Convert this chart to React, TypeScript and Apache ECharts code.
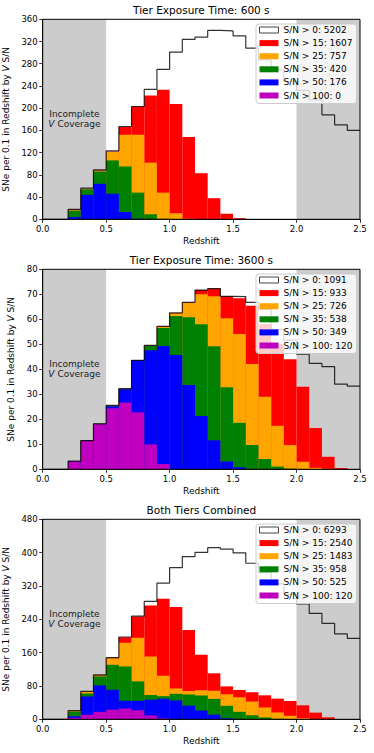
import React, { useEffect, useRef } from "react";
import * as echarts from "echarts";

// ---------------- data ----------------
const BIN_LEFT = [
  0.0, 0.1, 0.2, 0.3, 0.4, 0.5, 0.6, 0.7, 0.8, 0.9, 1.0, 1.1, 1.2,
  1.3, 1.4, 1.5, 1.6, 1.7, 1.8, 1.9, 2.0, 2.1, 2.2, 2.3, 2.4,
];
const BIN_WIDTH = 0.1;
const X_TICKS_MAX = 2.5;

const THRESHOLDS = ["S/N > 0", "S/N > 15", "S/N > 25", "S/N > 35", "S/N > 50", "S/N > 100"];

// Tier 600 s
const tot600 = [0, 0, 18, 56, 89, 123, 167, 203, 234, 270, 301, 324, 328, 340, 339, 330, 308, 287, 269, 248, 232, 215, 188, 170, 160];
const sn15_600 = [0, 0, 17.5, 55, 88, 122, 166, 203, 223, 233, 207.5, 148, 83, 38, 10, 2, 0, 0, 0, 0, 0, 0, 0, 0, 0];
const sn25_600 = [0, 0, 16.5, 54.5, 87, 121, 152, 152, 102, 48, 11, 1, 0, 0, 0, 0, 0, 0, 0, 0, 0, 0, 0, 0, 0];
const sn35_600 = [0, 0, 15.5, 54, 86, 106, 95, 48, 9, 1, 0, 0, 0, 0, 0, 0, 0, 0, 0, 0, 0, 0, 0, 0, 0];
const sn50_600 = [0, 0, 4, 44, 64, 46, 13, 1, 0, 0, 0, 0, 0, 0, 0, 0, 0, 0, 0, 0, 0, 0, 0, 0, 0];
const sn100_600 = [0, 0, 0, 0, 0, 0, 0, 0, 0, 0, 0, 0, 0, 0, 0, 0, 0, 0, 0, 0, 0, 0, 0, 0, 0];
const counts600 = [5202, 1607, 757, 420, 176, 0];

// Tier 3600 s
const tot3600 = [0, 0, 3.3, 11.5, 18.2, 25.6, 32.3, 43.6, 49.6, 57.2, 62.6, 66.8, 71.7, 72.3, 69.2, 69.1, 66.8, 64, 56, 51.7, 46.1, 42.4, 41.1, 34.1, 33.3];
const sn15_3600 = [0, 0, 3.3, 11.5, 18.2, 25.5, 32.2, 43.6, 49.5, 57.1, 62.5, 66.7, 71.7, 72.3, 69.2, 68.4, 65.4, 58, 50, 44, 33, 16.5, 5, 0.5, 0];
const sn25_3600 = [0, 0, 3.3, 11.5, 18.2, 25.4, 32.2, 43.6, 49.4, 57, 62.4, 66.5, 70, 69.2, 60.4, 54.1, 42.1, 29, 17.4, 9.7, 3, 0.6, 0.2, 0, 0];
const sn35_3600 = [0, 0, 3.3, 11.5, 18.2, 25.2, 32, 43.6, 49.3, 56.5, 61.3, 60.8, 58, 49.2, 32.8, 18.6, 9.7, 4.1, 1.1, 0.3, 0, 0, 0, 0, 0];
const sn50_3600 = [0, 0, 3.3, 11.5, 18.2, 25.2, 32, 43.6, 47.6, 49.3, 45.7, 33.7, 21.3, 11.6, 3.1, 0.8, 0, 0, 0, 0, 0, 0, 0, 0, 0];
const sn100_3600 = [0, 0, 3.2, 11.4, 18.1, 24.4, 26.7, 22.8, 10, 2.1, 0, 0, 0, 0, 0, 0, 0, 0, 0, 0, 0, 0, 0, 0, 0];
const counts3600 = [1091, 933, 726, 538, 349, 120];

// Both tiers combined
const totAll = [0, 0, 20.7, 66.8, 106.5, 148, 197.5, 247.5, 283, 327, 363.8, 390.5, 400.5, 412, 408.5, 399.5, 374.5, 352, 325, 300, 277, 254, 230, 205, 194];
const sn15All = [0, 0, 20.5, 66, 106, 147.5, 197, 247, 273, 289.5, 269.5, 214.5, 155, 110.4, 79, 70.4, 65, 57.6, 49.6, 44, 33.6, 16, 4.8, 0, 0];
const sn25All = [0, 0, 19.8, 65.5, 105, 146.4, 184, 195.7, 150.8, 104.5, 74, 67.8, 69.8, 68.6, 60, 53, 43, 28.5, 16.5, 8.5, 2.6, 0.5, 0, 0, 0];
const sn35All = [0, 0, 18.5, 62, 103, 130.8, 126.6, 91, 58.3, 55.5, 61.2, 59.5, 57.2, 49, 32.4, 18, 9.6, 4.5, 1.4, 0.3, 0, 0, 0, 0, 0];
const sn50All = [0, 0, 7.2, 54.8, 81.4, 70.8, 44.8, 44.2, 47, 49.4, 45.2, 32.8, 21, 11, 2.4, 0.8, 0, 0, 0, 0, 0, 0, 0, 0, 0];
const sn100All = [0, 0, 3.5, 10.8, 17.8, 23.3, 25.7, 21.7, 9.3, 2.2, 0, 0, 0, 0, 0, 0, 0, 0, 0, 0, 0, 0, 0, 0, 0];
const countsAll = [6293, 2540, 1483, 958, 525, 120];

const TITLES = ["Tier Exposure Time: 600 s", "Tier Exposure Time: 3600 s", "Both Tiers Combined"];
const Y_MAX = [360, 80, 480];
const Y_INTERVAL = [40, 10, 80];
const SHADED = [[0, 0.5], [2.0, 2.5]];

// ---------------- styling / layout ----------------
const FONT = "DejaVu Sans";
const FILL_COLORS = ["#ff0000", "#ffa500", "#008000", "#0000ff", "#bf00bf"];
const GRID_LEFT = 42.7;
const GRID_RIGHT = 14;
const GRID_TOPS = [19.3, 269.3, 519.3];
const GRID_H = 200;

const PANELS = [
  { total: tot600, filled: [sn15_600, sn25_600, sn35_600, sn50_600, sn100_600], counts: counts600 },
  { total: tot3600, filled: [sn15_3600, sn25_3600, sn35_3600, sn50_3600, sn100_3600], counts: counts3600 },
  { total: totAll, filled: [sn15All, sn25All, sn35All, sn50All, sn100All], counts: countsAll },
];

function makeRender(color: string) {
  return (params: any, api: any) => {
    const x0 = api.value(0);
    const v = api.value(1);
    if (!(v > 0)) return null;
    const a = api.coord([x0, 0]);
    const b = api.coord([x0 + BIN_WIDTH, v]);
    return {
      type: "rect",
      shape: { x: a[0], y: b[1], width: b[0] - a[0], height: a[1] - b[1] },
      style: { fill: color },
    };
  };
}

function buildOption() {
  const grid: any[] = [];
  const xAxis: any[] = [];
  const yAxis: any[] = [];
  const series: any[] = [];
  const legend: any[] = [];
  const graphic: any[] = [];

  PANELS.forEach((p, i) => {
    grid.push({
      left: GRID_LEFT,
      right: GRID_RIGHT,
      top: GRID_TOPS[i],
      height: GRID_H,
      containLabel: false,
      outerBoundsMode: "none",
      show: true,
      borderColor: "#000",
      borderWidth: 1,
      backgroundColor: "transparent",
      z: 10,
    });
    xAxis.push({
      type: "value",
      gridIndex: i,
      min: 0,
      max: X_TICKS_MAX,
      interval: 0.5,
      axisLine: { show: true, onZero: false, lineStyle: { color: "#000", width: 1 } },
      axisTick: { show: true, length: 3.5, lineStyle: { color: "#000", width: 0.8 } },
      axisLabel: {
        formatter: (v: number) => v.toFixed(1),
        fontSize: 8.5,
        fontFamily: FONT,
        color: "#000",
        margin: 5,
      },
      splitLine: { show: false },
      name: "Redshift",
      nameLocation: "middle",
      nameGap: 17,
      nameTextStyle: { fontSize: 9, fontFamily: FONT, color: "#000" },
    });
    yAxis.push({
      type: "value",
      gridIndex: i,
      min: 0,
      max: Y_MAX[i],
      interval: Y_INTERVAL[i],
      axisLine: { show: true, onZero: false, lineStyle: { color: "#000", width: 1 } },
      axisTick: { show: true, length: 3.5, lineStyle: { color: "#000", width: 0.8 } },
      axisLabel: { fontSize: 8.5, fontFamily: FONT, color: "#000", margin: 5 },
      splitLine: { show: false },
      name: "SNe per 0.1 in Redshift by {i|V} S/N",
      nameLocation: "middle",
      nameRotate: 90,
      nameGap: 27,
      nameTextStyle: {
        fontSize: 9,
        fontFamily: FONT,
        color: "#000",
        rich: { i: { fontSize: 9, fontFamily: FONT, fontStyle: "italic", color: "#000" } },
      },
    });

    // shaded incomplete-coverage spans
    series.push({
      type: "line",
      xAxisIndex: i,
      yAxisIndex: i,
      data: [],
      silent: true,
      z: 1,
      markArea: {
        silent: true,
        itemStyle: { color: "#cccccc" },
        label: {
          show: true,
          position: "inside",
          formatter: "Incomplete\n{i|V} Coverage",
          fontSize: 9,
          lineHeight: 10,
          fontFamily: FONT,
          color: "#222",
          rich: { i: { fontSize: 9, lineHeight: 10, fontFamily: FONT, fontStyle: "italic", color: "#222" } },
        },
        data: [
          [{ xAxis: SHADED[0][0] }, { xAxis: SHADED[0][1] }],
          [{ xAxis: SHADED[1][0], label: { show: false } }, { xAxis: SHADED[1][1] }],
        ],
      },
    });

    const names = THRESHOLDS.map((t, k) => `${t}: ${p.counts[k]}`);

    p.filled.forEach((vals, k) => {
      series.push({
        type: "custom",
        name: names[k + 1],
        xAxisIndex: i,
        yAxisIndex: i,
        z: 2,
        silent: true,
        itemStyle: { color: FILL_COLORS[k] },
        encode: { x: 0, y: 1 },
        renderItem: makeRender(FILL_COLORS[k]),
        data: BIN_LEFT.map((x, j) => [x, vals[j]]),
      });
    });

    const stepData = BIN_LEFT.map((x, j) => [x, p.total[j]]);
    stepData.push([X_TICKS_MAX, p.total[p.total.length - 1]]);
    series.push({
      type: "line",
      name: names[0],
      xAxisIndex: i,
      yAxisIndex: i,
      z: 3,
      step: "end",
      symbol: "none",
      showSymbol: false,
      silent: true,
      itemStyle: { color: "#ffffff", borderColor: "#444" },
      lineStyle: { color: "#000", width: 1.2, opacity: 0.8 },
      data: stepData,
    });

    legend.push({
      orient: "vertical",
      left: 256,
      top: GRID_TOPS[i] + 4.7,
      padding: [0.5, 4, 2.5, 3],
      itemGap: 2.1,
      itemWidth: 19,
      itemHeight: 6,
      backgroundColor: "rgba(255,255,255,0.8)",
      borderColor: "#cccccc",
      borderWidth: 1,
      borderRadius: 3,
      selectedMode: false,
      textStyle: { fontSize: 9, lineHeight: 11, fontFamily: FONT, color: "#000" },
      data: names.map((n, k) =>
        k === 0
          ? { name: n, icon: "rect", itemStyle: { color: "#ffffff", borderColor: "#444", borderWidth: 1 } }
          : { name: n, icon: "rect", itemStyle: { color: FILL_COLORS[k - 1] } }
      ),
    });

    graphic.push({
      type: "text",
      x: GRID_LEFT + (374 - GRID_LEFT - GRID_RIGHT) / 2,
      y: GRID_TOPS[i] - 9,
      style: {
        text: TITLES[i],
        align: "center",
        verticalAlign: "middle",
        fontSize: 10.5,
        fontFamily: FONT,
        fill: "#000",
      },
    });
  });

  return {
    animation: false,
    backgroundColor: "#ffffff",
    textStyle: { fontFamily: FONT },
    grid,
    xAxis,
    yAxis,
    series,
    legend,
    graphic,
  };
}

export default function App() {
  const ref = useRef<HTMLDivElement>(null);
  useEffect(() => {
    if (!ref.current) return;
    const chart = echarts.init(ref.current, undefined, { renderer: "svg" });
    chart.setOption(buildOption() as any);
    return () => chart.dispose();
  }, []);
  return (
    <div
      ref={ref}
      style={{ position: "fixed", left: 0, top: 0, width: 374, height: 753, background: "#fff" }}
    />
  );
}
